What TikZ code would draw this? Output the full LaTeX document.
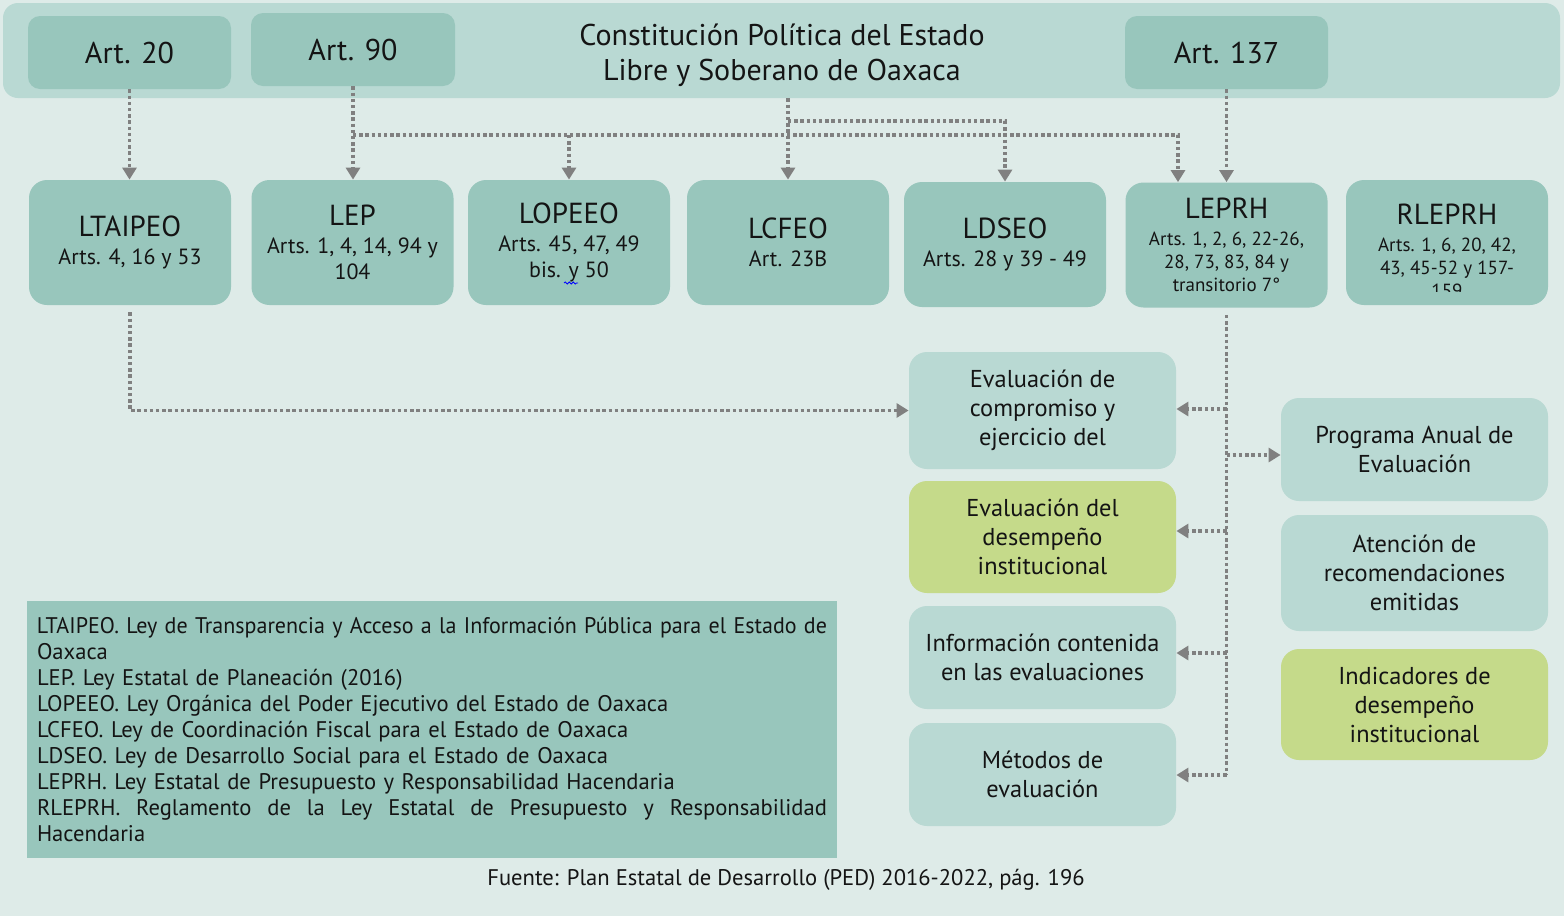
\documentclass[tikz,border=0pt]{standalone}
\usepackage{fontspec}
\usepackage{graphicx}
\setmainfont{PT Sans}
\usetikzlibrary{arrows.meta,decorations.pathmorphing}
\setlength\parindent{0pt}
\definecolor{bgc}{RGB}{222,235,232}
\definecolor{lt}{RGB}{185,217,211}
\definecolor{dk}{RGB}{152,198,188}
\definecolor{gr}{RGB}{197,218,138}
\definecolor{ln}{RGB}{128,128,128}
\definecolor{txt}{RGB}{20,20,20}
\newcommand\fArt{\fontsize{15}{18}\selectfont}
\newcommand\fTit{\fontsize{15}{17.5}\selectfont}
\newcommand\fHd{\fontsize{14.5}{16}\selectfont}
\newcommand\fAr{\fontsize{11}{13}\selectfont}
\newcommand\fSm{\fontsize{9.5}{11.5}\selectfont}
\newcommand\fBx{\fontsize{12.2}{14.5}\selectfont}
\begin{document}
\begin{tikzpicture}[x=0.5pt,y=-0.5pt,
  abox/.style={rounded corners=6pt, fill=dk, text=txt, align=center, inner sep=0pt, font=\fArt},
  lbox/.style={rounded corners=9pt, fill=dk, text=txt, align=center, inner sep=0pt, minimum width=101pt, minimum height=62.5pt, font=\fAr},
  rbox/.style={rounded corners=9pt, fill=lt, text=txt, align=center, inner sep=0pt, minimum width=133.5pt, font=\fBx},
  gbox/.style={rbox, fill=gr},
  connl/.style={draw=ln, line width=1.8pt, dash pattern=on 1.7pt off 1.4pt},
  conn/.style={connl, -{Triangle[length=6pt,width=7pt]}}]
\fill[bgc] (0,0) rectangle (1564,916);
\useasboundingbox (0,0) rectangle (1564,916);

% top band
\node[fill=lt, rounded corners=7.5pt, minimum width=778.5pt, minimum height=47.5pt, inner sep=0pt] (band) at (781.5,50.5) {};
\node[abox, minimum width=101.5pt, minimum height=36.5pt] (art20) at (129.5,52.5) {Art. 20};
\node[abox, minimum width=102pt, minimum height=36.5pt] (art90) at (353,49.5) {Art. 90};
\node[abox, minimum width=101.5pt, minimum height=36.5pt] (art137) at (1226.5,52.5) {Art. 137};
\node[text=txt, align=center, font=\fTit] (title) at (782,55) {Constitución Política del Estado\\Libre y Soberano de Oaxaca};

% second row
\node[lbox] (ltaipeo) at (130,242.5) {{\fHd LTAIPEO}\\[1pt]Arts. 4, 16 y 53};
\node[lbox] (lep) at (352.5,242.5) {{\fHd LEP}\\[1pt]Arts. 1, 4, 14, 94 y\\104};
\node[lbox] (lopeeo) at (569,242.5) {{\fHd LOPEEO}\\[1pt]Arts. 45, 47, 49\\bis. y 50};
\node[lbox] (lcfeo) at (788,242.5) {{\fHd LCFEO}\\[1pt]Art. 23B};
\node[lbox] (ldseo) at (1005,244.5) {{\fHd LDSEO}\\[1pt]Arts. 28 y 39 - 49};
\node[lbox, font=\fSm] (leprh) at (1226.5,245) {{\fHd LEPRH}\\[2pt]Arts. 1, 2, 6, 22-26,\\28, 73, 83, 84 y\\transitorio 7°};
\node[lbox] (rleprh) at (1447,242.5) {};
\begin{scope}
\clip (1346,180) rectangle (1548,291);
\node[text=txt, align=center, anchor=north, font=\fSm] (rlt) at (1447,197) {{\fHd RLEPRH}\\[2pt]Arts. 1, 6, 20, 42,\\43, 45-52 y 157-\\159};
\end{scope}
\draw[blue, line width=0.4pt, decorate, decoration={snake, amplitude=0.5pt, segment length=2pt}] (564,283) -- (578,283);

% right column boxes
\node[rbox, minimum height=58.5pt] (ev1) at (1042.5,410.5) {Evaluación de\\compromiso y\\ejercicio del};
\node[gbox, minimum height=56pt] (ev2) at (1042.5,537) {Evaluación del\\desempeño\\institucional};
\node[rbox, minimum height=51.5pt] (info) at (1042.5,657.5) {Información contenida\\en las evaluaciones};
\node[rbox, minimum height=51.5pt] (met) at (1042.5,774.5) {Métodos de\\evaluación};
\node[rbox, minimum height=51.5pt] (pae) at (1414.5,449.5) {Programa Anual de\\Evaluación};
\node[rbox, minimum height=58pt] (aten) at (1414.5,573) {Atención de\\recomendaciones\\emitidas};
\node[gbox, minimum height=55.5pt] (indic) at (1414.5,704.5) {Indicadores de\\desempeño\\institucional};

% legend
\node[fill=dk, text=txt, minimum width=404pt, minimum height=128.5pt, inner xsep=5pt, inner ysep=0pt, text width=395pt, font=\fontsize{11.3}{13}\selectfont] (legend) at (432,729.5) {%
\resizebox{395pt}{\height}{LTAIPEO. Ley de Transparencia y Acceso a la Información Pública para el Estado de}\par
Oaxaca\par
LEP. Ley Estatal de Planeación (2016)\par
LOPEEO. Ley Orgánica del Poder Ejecutivo del Estado de Oaxaca\par
LCFEO. Ley de Coordinación Fiscal para el Estado de Oaxaca\par
LDSEO. Ley de Desarrollo Social para el Estado de Oaxaca\par
LEPRH. Ley Estatal de Presupuesto y Responsabilidad Hacendaria\par
\hbox to 395pt{RLEPRH.\hfill Reglamento\hfill de\hfill la\hfill Ley\hfill Estatal\hfill de\hfill Presupuesto\hfill y\hfill Responsabilidad}\par
Hacendaria};
\node[text=txt, font=\fontsize{11.3}{13}\selectfont] (fuente) at (786,880) {Fuente: Plan Estatal de Desarrollo (PED) 2016-2022, pág. 196};

% connectors top
\draw[conn] (art20.south) -- (art20.south |- ltaipeo.north);
\draw[conn] (art90.south) -- (art90.south |- lep.north);
\coordinate (j90) at (353,135);
\draw[conn] (j90) -| ([xshift=-24.25pt]leprh.north);
\draw[conn] (j90 -| lopeeo.north) -- (lopeeo.north);
\draw[conn] (lcfeo.north |- band.south) -- (lcfeo.north);
\coordinate (jc) at (788,121);
\draw[conn] (jc) -| (ldseo.north);
\draw[conn] (art137.south) -- (art137.south |- leprh.north);

% lower connectors
\draw[conn, shorten <=3.5pt] (ltaipeo.south) |- (ev1.west);
\coordinate (t1) at (1226.5,409);
\coordinate (t2) at (1226.5,531);
\coordinate (t3) at (1226.5,653);
\coordinate (t4) at (1226.5,775);
\coordinate (t5) at (1226.5,455);
\draw[connl, shorten <=3.5pt] (leprh.south) -- (t4);
\draw[conn] (t1) -- (t1 -| ev1.east);
\draw[conn] (t2) -- (t2 -| ev2.east);
\draw[conn] (t3) -- (t3 -| info.east);
\draw[conn] (t4) -- (t4 -| met.east);
\draw[conn] (t5) -- (t5 -| pae.west);
\end{tikzpicture}
\end{document}
